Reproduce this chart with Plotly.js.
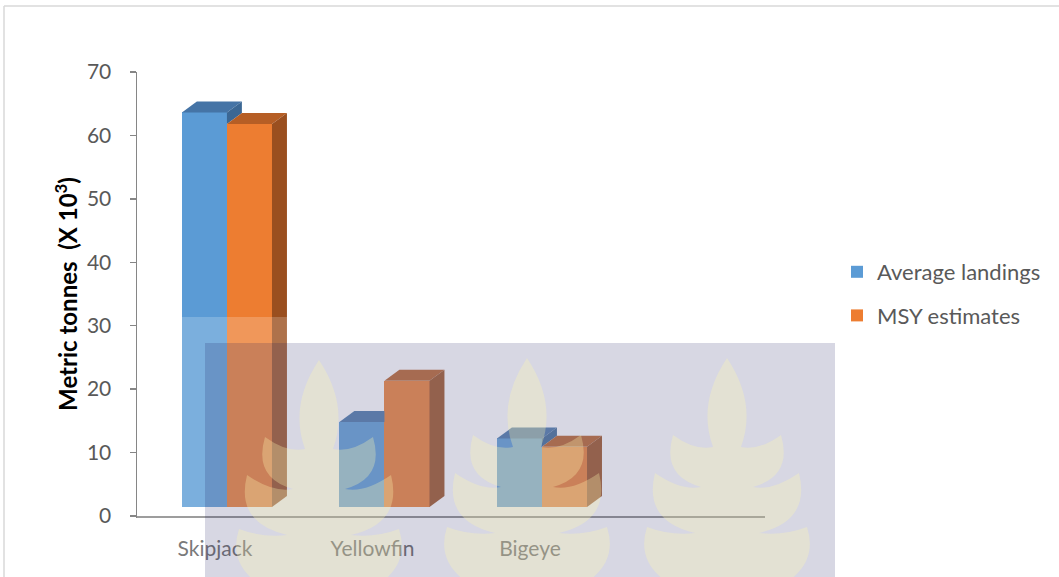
<!DOCTYPE html>
<html>
<head>
<meta charset="utf-8">
<script src="https://cdn.plot.ly/plotly-3.0.1.min.js"></script>
<style>html,body{margin:0;padding:0;background:#fff;}#chart{width:1059px;height:577px;}</style>
</head>
<body>
<div id="chart"></div>
<script>
// ---- data ----
const categories = ['Skipjack', 'Yellowfin', 'Bigeye'];
const averageLandings = [62.2, 13.4, 10.8];
const msyEstimates = [60.4, 19.9, 9.5];
const seriesNames = ['Average landings', 'MSY estimates'];
const yTickValues = [0, 10, 20, 30, 40, 50, 60, 70];

// ---- styling / geometry constants ----
const W = 1059, H = 577;
const M = {l: 137, r: 294, t: 72, b: 61};
const plotW = W - M.l - M.r, plotH = H - M.t - M.b;
const xRange = [-0.495, 3.492];
const yRange = [0, 70];
const barW = 0.286;
const offs = [-0.067, 0.219];
const depthX = 0.095, depthY = 1.73;   // 3-D depth of the columns
const floorY = 1.42;                    // front edge of floor
const cols = {
  blue:   {front: '#5B9BD5', top: '#4574A6', side: '#3B6794'},
  orange: {front: '#ED7D31', top: '#B65E25', side: '#9A4F1F'}
};
const textCol = '#595959';
const font = 'Lato, "Open Sans", sans-serif';

const idx = categories.map((c, i) => i);
const traces = [];

// front faces (bars)
[[averageLandings, cols.blue, 'a'], [msyEstimates, cols.orange, 'b']].forEach((s, k) => {
  traces.push({
    type: 'bar', name: seriesNames[k], legendgroup: s[2],
    x: idx.map(i => i + offs[k]), y: s[0], base: idx.map(() => floorY),
    width: barW, marker: {color: s[1].front, line: {width: 0}},
    hoverinfo: 'x+y'
  });
});

function poly(pts, color) {
  const xs = pts.map(p => p[0]); xs.push(pts[0][0]);
  const ys = pts.map(p => p[1]); ys.push(pts[0][1]);
  traces.push({type: 'scatter', mode: 'lines', x: xs, y: ys, fill: 'toself',
    fillcolor: color, line: {width: 0, color: color}, showlegend: false, hoverinfo: 'skip'});
}

idx.forEach(i => {
  const bTop = floorY + averageLandings[i], oTop = floorY + msyEstimates[i];
  const bx0 = i + offs[0] - barW / 2, bx1 = i + offs[0] + barW / 2;
  const ox0 = i + offs[1] - barW / 2, ox1 = i + offs[1] + barW / 2;
  // blue top face (clipped by orange front)
  if (oTop >= bTop + depthY) {
    poly([[bx0, bTop], [bx0 + depthX, bTop + depthY], [bx1, bTop + depthY], [bx1, bTop]], cols.blue.top);
  } else if (oTop >= bTop) {
    const xc = bx1 + (oTop - bTop) / depthY * depthX;
    poly([[bx0, bTop], [bx0 + depthX, bTop + depthY], [bx1 + depthX, bTop + depthY], [xc, oTop], [bx1, oTop], [bx1, bTop]], cols.blue.top);
  } else {
    poly([[bx0, bTop], [bx0 + depthX, bTop + depthY], [bx1 + depthX, bTop + depthY], [bx1, bTop]], cols.blue.top);
    // blue side face visible above orange column
    poly([[bx1, oTop], [bx1, bTop], [bx1 + depthX, bTop + depthY], [bx1 + depthX, oTop + depthY]], cols.blue.side);
  }
  // orange top and side
  poly([[ox0, oTop], [ox0 + depthX, oTop + depthY], [ox1 + depthX, oTop + depthY], [ox1, oTop]], cols.orange.top);
  poly([[ox1, floorY], [ox1 + depthX, floorY + depthY], [ox1 + depthX, oTop + depthY], [ox1, oTop]], cols.orange.side);
});

// ---- watermark & frame (pixel → paper helpers) ----
const pxX = p => (p - M.l) / plotW;
const pxY = p => (M.t + plotH - p) / plotH;
const shapes = [
  {type: 'line', xref: 'paper', yref: 'paper', x0: pxX(4), x1: pxX(W + 5), y0: pxY(6), y1: pxY(6), line: {color: '#d9d9d9', width: 1.5}},
  {type: 'line', xref: 'paper', yref: 'paper', x0: pxX(4), x1: pxX(4), y0: pxY(6), y1: pxY(H + 5), line: {color: '#d9d9d9', width: 1.5}},
  {type: 'rect', xref: 'paper', yref: 'paper', layer: 'above', x0: pxX(137), x1: pxX(835), y0: pxY(317), y1: pxY(H + 5), fillcolor: 'rgba(255,255,255,0.2)', line: {width: 0}},
  {type: 'rect', xref: 'paper', yref: 'paper', layer: 'above', x0: pxX(205), x1: pxX(835), y0: pxY(343), y1: pxY(H + 5), fillcolor: 'rgba(20,20,90,0.17)', line: {width: 0}}
];
const treeSegs = [[30, 45, 14, 89], [32, 93, 54, 77], [66, 118, 26, 129], [46, 133, 72, 115], [84, 163, 32, 175], [56, 178, 80, 169], [94, 212, 40, 235]];
function treePath(cx, ty) {
  const P = (dx, dy) => pxX(cx + dx).toFixed(4) + ',' + pxY(ty + dy).toFixed(4);
  let d = 'M' + P(0, 0);
  treeSegs.forEach(s => { d += ' Q' + P(s[0], s[1]) + ' ' + P(s[2], s[3]); });
  const last = treeSegs[treeSegs.length - 1];
  d += ' L' + P(-last[2], last[3]);
  for (let k = treeSegs.length - 1; k >= 0; k--) {
    const prev = k > 0 ? treeSegs[k - 1] : [0, 0, 0, 0];
    d += ' Q' + P(-treeSegs[k][0], treeSegs[k][1]) + ' ' + P(-prev[2], prev[3]);
  }
  return d + ' Z';
}
[[319, 360], [527, 358], [727, 358]].forEach(t => {
  shapes.push({type: 'path', xref: 'paper', yref: 'paper', layer: 'above', path: treePath(t[0], t[1]), fillcolor: 'rgba(255,250,175,0.3)', line: {width: 0}});
});

const layout = {
  width: W, height: H, margin: M,
  paper_bgcolor: '#ffffff', plot_bgcolor: 'rgba(0,0,0,0)',
  barmode: 'overlay', bargap: 0,
  showlegend: true,
  font: {family: font, color: textCol, size: 21},
  xaxis: {
    range: xRange, tickvals: idx, ticktext: categories, ticks: '',
    showline: true, linecolor: '#858585', linewidth: 1.5,
    showgrid: false, zeroline: false, ticklabelstandoff: 13,
    tickfont: {family: font, size: 21, color: textCol}, fixedrange: true
  },
  yaxis: {
    range: yRange, tickvals: yTickValues, ticks: 'outside', ticklen: 6, tickcolor: '#868686', tickwidth: 1.5,
    showline: true, linecolor: '#868686', linewidth: 1.5,
    showgrid: false, zeroline: false, ticklabelstandoff: 14,
    tickfont: {family: font, size: 21, color: textCol},
    title: {text: 'Metric tonnes  (X 10<sup>3</sup>)', standoff: 2, font: {family: font, size: 24, color: '#000000', weight: 'bold'}},
    fixedrange: true
  },
  legend: {
    x: pxX(837), xanchor: 'left', y: pxY(251), yanchor: 'top',
    traceorder: 'grouped', tracegroupgap: 12,
    font: {family: font, size: 22, color: textCol}, bgcolor: 'rgba(0,0,0,0)', borderwidth: 0
  },
  shapes: shapes
};

Plotly.newPlot('chart', traces, layout, {displayModeBar: false, staticPlot: true});
</script>
</body>
</html>
